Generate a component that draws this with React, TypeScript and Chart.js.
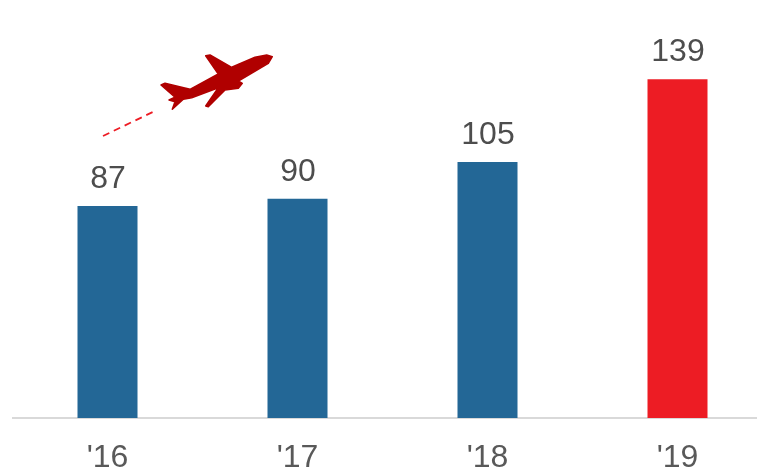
import React, { useEffect, useRef } from "react";
import { Chart, registerables } from "chart.js";

Chart.register(...registerables);

const categories = ["'16", "'17", "'18", "'19"];
const values = [87, 90, 105, 139];
const barColors = ["#236796", "#236796", "#236796", "#ed1c24"];

const planePoints: [number, number][] = [
  [272.3, 56.7], [266.7, 55], [255, 57.3], [231.7, 67.3], [210, 55], [205.7, 55.7], [218.3, 74],
  [190, 89.3], [165, 83.3], [161, 85], [175, 97.3], [169, 100], [175, 101.7], [172.3, 109.3],
  [183.3, 99.3], [191.7, 97.7], [218.3, 87.7], [205.7, 106], [208.3, 106.7], [225, 90], [238.3, 88.3],
  [242.3, 83.3], [238.3, 81], [268.3, 63.3],
];

const decorPlugin = {
  id: "decor",
  afterDatasetsDraw(chart: any) {
    const { ctx } = chart;
    const meta = chart.getDatasetMeta(0);
    ctx.save();
    ctx.font = "32px 'Liberation Sans', Arial, sans-serif";
    ctx.fillStyle = "#4d4d4d";
    ctx.textAlign = "center";
    ctx.textBaseline = "alphabetic";
    meta.data.forEach((bar: any, i: number) => {
      ctx.fillText(String(values[i]), bar.x + 0.5, bar.y - 18);
    });
    ctx.beginPath();
    planePoints.forEach(([x, y], i) => (i ? ctx.lineTo(x, y) : ctx.moveTo(x, y)));
    ctx.closePath();
    ctx.fillStyle = "#b00000";
    ctx.strokeStyle = "#b00000";
    ctx.lineWidth = 1.5;
    ctx.lineJoin = "round";
    ctx.fill();
    ctx.stroke();
    ctx.beginPath();
    ctx.setLineDash([7, 5]);
    ctx.moveTo(103, 136);
    ctx.lineTo(157, 110);
    ctx.strokeStyle = "#ed1c24";
    ctx.lineWidth = 1.8;
    ctx.stroke();
    ctx.restore();
  },
};

export default function App() {
  const ref = useRef<HTMLCanvasElement>(null);
  useEffect(() => {
    const chart = new Chart(ref.current!, {
      type: "bar",
      data: {
        labels: categories,
        datasets: [{ data: values, backgroundColor: barColors, barPercentage: 1, categoryPercentage: 0.3158 }],
      },
      options: {
        animation: false,
        responsive: false,
        layout: { padding: { top: 28, left: 12.5, right: 0.5, bottom: 0 } },
        plugins: { legend: { display: false }, tooltip: { enabled: false } },
        scales: {
          x: {
            grid: { display: false, drawTicks: false },
            border: { color: "#d9d9d9", width: 2 },
            ticks: {
              color: "#595959",
              font: { family: "'Liberation Sans', Arial, sans-serif", size: 32 },
              padding: 21,
              maxRotation: 0,
            },
            afterFit(scale: any) {
              scale.height = 56;
            },
          },
          y: { display: false, min: 0, max: 160 },
        },
      },
      plugins: [decorPlugin],
    });
    return () => chart.destroy();
  }, []);
  return (
    <div style={{ position: "fixed", left: 0, top: 0, width: 757, height: 474, overflow: "hidden", background: "#fff" }}>
      <canvas ref={ref} width={773} height={474} style={{ display: "block" }} />
    </div>
  );
}
